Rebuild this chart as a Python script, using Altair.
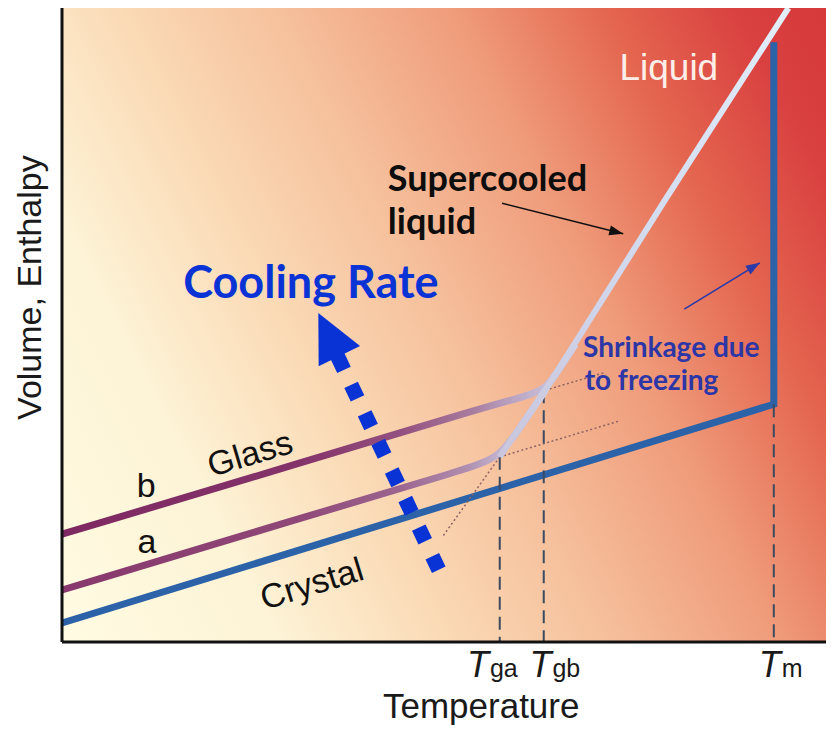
import altair as alt
import pandas as pd

# ---------------- data (Temperature / Volume in arbitrary units) ----------------
crystal_T = [0.0, 92.2, 92.2]
crystal_V = [3.0, 37.5, 94.6]

liquid_T = [94.1, 78.1, 62.6, 56.7]
liquid_V = [100.0, 69.7, 39.7, 29.2]

glass_b_T = [0.0, 30.8, 54.1, 58.7, 62.6, 64.0, 66.5]
glass_b_V = [17.0, 28.2, 36.8, 38.3, 39.7, 42.3, 47.0]

glass_a_T = [0.0, 30.8, 52.8, 56.7, 59.1, 62.6]
glass_a_V = [8.2, 19.5, 27.4, 29.2, 33.4, 39.7]

# dotted extrapolations
ext_id = ["b", "b", "a", "a", "liq", "liq"]
ext_T = [58.7, 70.3, 56.7, 72.3, 56.7, 49.4]
ext_V = [38.3, 42.5, 29.2, 34.9, 29.2, 16.8]

# transition temperatures (dashed drop lines) and their labels
trans_sub = ["ga", "gb", "m"]
trans_T = [56.7, 62.4, 92.2]
trans_V = [29.2, 39.7, 37.5]
trans_label_T = [55.3, 63.4, 93.1]

# annotation arrows
cool_T = [48.8, 35.6]
cool_V = [11.4, 45.3]
cool_tip_T, cool_tip_V = 33.2, 51.9
super_T = [57.0, 72.7]
super_V = [69.2, 64.4]
shrink_T = [80.6, 90.4]
shrink_V = [52.5, 59.8]

# ---------------- helpers ----------------
XS = alt.Scale(domain=[0, 98.96], nice=False, zero=False)
YS = alt.Scale(domain=[0, 100], nice=False, zero=False)


def X():
    return alt.X("T:Q", scale=XS, axis=None)


def Y():
    return alt.Y("V:Q", scale=YS, axis=None)


def path_df(T, V):
    return pd.DataFrame({"T": T, "V": V, "o": list(range(len(T)))})


def grad(stops, x1=0, y1=0, x2=1, y2=0):
    return alt.LinearGradient(
        gradient="linear",
        stops=[alt.GradientStop(color=c, offset=o) for o, c in stops],
        x1=x1, y1=y1, x2=x2, y2=y2,
    )


FONT = "Liberation Sans"
COMIC = "Lato"
INK = "#1a1a1a"

# ---------------- background ----------------
bg = alt.Chart(pd.DataFrame({"k": [0]})).mark_rect(
    fill=grad(
        [(0.0, "#fffbe2"), (0.2, "#fdf3d6"), (0.34, "#fbdcb8"), (0.5, "#f6c09c"),
         (0.66, "#ef9b7a"), (0.8, "#e4654f"), (0.92, "#d94040"), (1.0, "#d6393a")],
        x1=0, y1=1, x2=1.207, y2=0.483),
    stroke=None,
).encode(x=alt.value(0), x2=alt.value("width"), y=alt.value(0), y2=alt.value("height"))

# axis lines
axis_left = alt.Chart(pd.DataFrame({"k": [0]})).mark_rule(
    color="#111111", strokeWidth=3
).encode(x=alt.value(0), y=alt.value(0), y2=alt.value("height"))
axis_bottom = alt.Chart(pd.DataFrame({"k": [0]})).mark_rule(
    color="#111111", strokeWidth=3
).encode(x=alt.value(0), x2=alt.value("width"), y=alt.value("height"))

# ---------------- crystal ----------------
crystal = alt.Chart(path_df(crystal_T, crystal_V)).mark_line(
    color="#2b62a8", strokeWidth=7, strokeJoin="miter"
).encode(x=X(), y=Y(), order="o:Q")

# ---------------- dotted extrapolations ----------------
ext = alt.Chart(pd.DataFrame({"id": ext_id, "T": ext_T, "V": ext_V})).mark_line(
    color="#8c6464", strokeWidth=1.5, strokeDash=[2, 2.5]
).encode(x=X(), y=Y(), detail="id:N")

# ---------------- dashed drop lines ----------------
drops = pd.DataFrame({
    "id": trans_sub * 2,
    "T": trans_T * 2,
    "V": trans_V + [0.0, 0.0, 0.0],
})
drop = alt.Chart(drops).mark_line(
    color="#3d4a60", strokeWidth=2, strokeDash=[13, 7]
).encode(x=X(), y=Y(), detail="id:N")

# ---------------- glass lines ----------------
glass_b = alt.Chart(path_df(glass_b_T, glass_b_V)).mark_line(
    interpolate="basis", strokeWidth=7,
    color=grad([(0.0, "#7e2862"), (0.46, "#84336a"), (0.66, "#93507f"), (0.8, "#a87c9f"),
                (0.87, "#b8a0bf"), (0.94, "#c6bdd8"), (1.0, "#ccd0e6")]),
).encode(x=X(), y=Y(), order="o:Q")

glass_a = alt.Chart(path_df(glass_a_T, glass_a_V)).mark_line(
    interpolate="basis", strokeWidth=7,
    color=grad([(0.0, "#88386c"), (0.49, "#8f4878"), (0.7, "#9c6590"), (0.84, "#b08fb0"),
                (0.9, "#c0b0cc"), (1.0, "#cdd0e6")]),
).encode(x=X(), y=Y(), order="o:Q")

# ---------------- liquid ----------------
liquid = alt.Chart(path_df(liquid_T, liquid_V)).mark_line(
    strokeWidth=6, clip=True,
    color=grad([(0.0, "#e2eef9"), (0.5, "#d3dbef"), (1.0, "#c9c6de")], x1=0, y1=0, x2=0, y2=1),
).encode(x=X(), y=Y(), order="o:Q")

# ---------------- arrows ----------------
HEAD = "M0,0L-0.48,1L0.48,1Z"
HEAD_S = "M0,0L-0.36,1L0.36,1Z"

cool_shaft = alt.Chart(path_df(cool_T, cool_V)).mark_line(
    color="#0a33d6", strokeWidth=15, strokeDash=[15, 16.6], strokeCap="butt"
).encode(x=X(), y=Y(), order="o:Q")
cool_head = alt.Chart(pd.DataFrame({"T": [cool_tip_T], "V": [cool_tip_V]})).mark_point(
    shape=HEAD, size=9216, filled=True, color="#0a33d6", opacity=1, angle=334, strokeWidth=0
).encode(x=X(), y=Y())

super_line = alt.Chart(path_df(super_T, super_V)).mark_line(
    color="#111111", strokeWidth=1.6
).encode(x=X(), y=Y(), order="o:Q")
super_head = alt.Chart(pd.DataFrame({"T": [super_T[1]], "V": [super_V[1]]})).mark_point(
    shape=HEAD_S, size=784, filled=True, color="#111111", opacity=1, angle=104, strokeWidth=0
).encode(x=X(), y=Y())

shrink_line = alt.Chart(path_df(shrink_T, shrink_V)).mark_line(
    color="#2b3aa8", strokeWidth=1.6
).encode(x=X(), y=Y(), order="o:Q")
shrink_head = alt.Chart(pd.DataFrame({"T": [shrink_T[1]], "V": [shrink_V[1]]})).mark_point(
    shape=HEAD_S, size=784, filled=True, color="#2b3aa8", opacity=1, angle=59, strokeWidth=0
).encode(x=X(), y=Y())


# ---------------- text ----------------
def label(text, T, V, **kw):
    return alt.Chart(pd.DataFrame({"T": [T], "V": [V], "t": [text]})).mark_text(**kw).encode(
        x=X(), y=Y(), text="t:N")


texts = [
    label("Temperature", 54.3, -12.0, font=FONT, fontSize=35, color=INK,
          align="center", baseline="alphabetic"),
    label("Volume, Enthalpy", -4.0, 55.9, font=FONT, fontSize=34, color=INK,
          align="center", baseline="middle", angle=270),
    label("Liquid", 78.6, 88.6, font=FONT, fontSize=37, color="#fcefe9",
          align="center", baseline="alphabetic"),
    label("Glass", 24.4, 29.5, font=FONT, fontSize=34, color="#111111",
          align="center", baseline="middle", angle=343.5),
    label("Crystal", 32.4, 9.0, font=FONT, fontSize=34, color="#111111",
          align="center", baseline="middle", angle=343),
    label("b", 10.9, 24.5, font=FONT, fontSize=34, color="#111111",
          align="center", baseline="middle"),
    label("a", 11.0, 15.6, font=FONT, fontSize=34, color="#111111",
          align="center", baseline="middle"),
    label("Supercooled", 42.2, 71.1, font=COMIC, fontSize=36, fontWeight="bold",
          color="#0d0d0d", align="left", baseline="alphabetic"),
    label("liquid", 42.2, 64.4, font=COMIC, fontSize=36, fontWeight="bold",
          color="#0d0d0d", align="left", baseline="alphabetic"),
    label("Cooling Rate", 15.7, 54.3, font=COMIC, fontSize=45, fontWeight="bold",
          color="#0a33d6", align="left", baseline="alphabetic"),
    label("Shrinkage due", 67.5, 45.0, font=COMIC, fontSize=28, fontWeight="bold",
          color="#2d36a6", align="left", baseline="alphabetic"),
    label("to freezing", 67.7, 39.8, font=COMIC, fontSize=28, fontWeight="bold",
          color="#2d36a6", align="left", baseline="alphabetic"),
]

tick_df = pd.DataFrame({"T": trans_label_T, "V": [0.0] * 3, "T_": ["T"] * 3, "sub": trans_sub})
tick_T = alt.Chart(tick_df).mark_text(
    font=FONT, fontSize=36, fontStyle="italic", color=INK,
    align="right", baseline="alphabetic", dy=35,
).encode(x=X(), y=Y(), text="T_:N")
tick_sub = alt.Chart(tick_df).mark_text(
    font=FONT, fontSize=25, color=INK,
    align="left", baseline="alphabetic", dy=35, dx=1,
).encode(x=X(), y=Y(), text="sub:N")

chart = alt.layer(
    bg, crystal, ext, drop, glass_b, glass_a, liquid,
    super_line, super_head, shrink_line, shrink_head,
    cool_shaft, cool_head, axis_left, axis_bottom, *texts, tick_T, tick_sub,
).properties(
    width=764, height=634,
    padding={"left": 54, "top": 0, "right": 0, "bottom": 84},
    autosize=alt.AutoSizeParams(type="none"),
).configure_view(stroke=None)

chart.save("out.html", embed_options={"renderer": "svg", "actions": False})
